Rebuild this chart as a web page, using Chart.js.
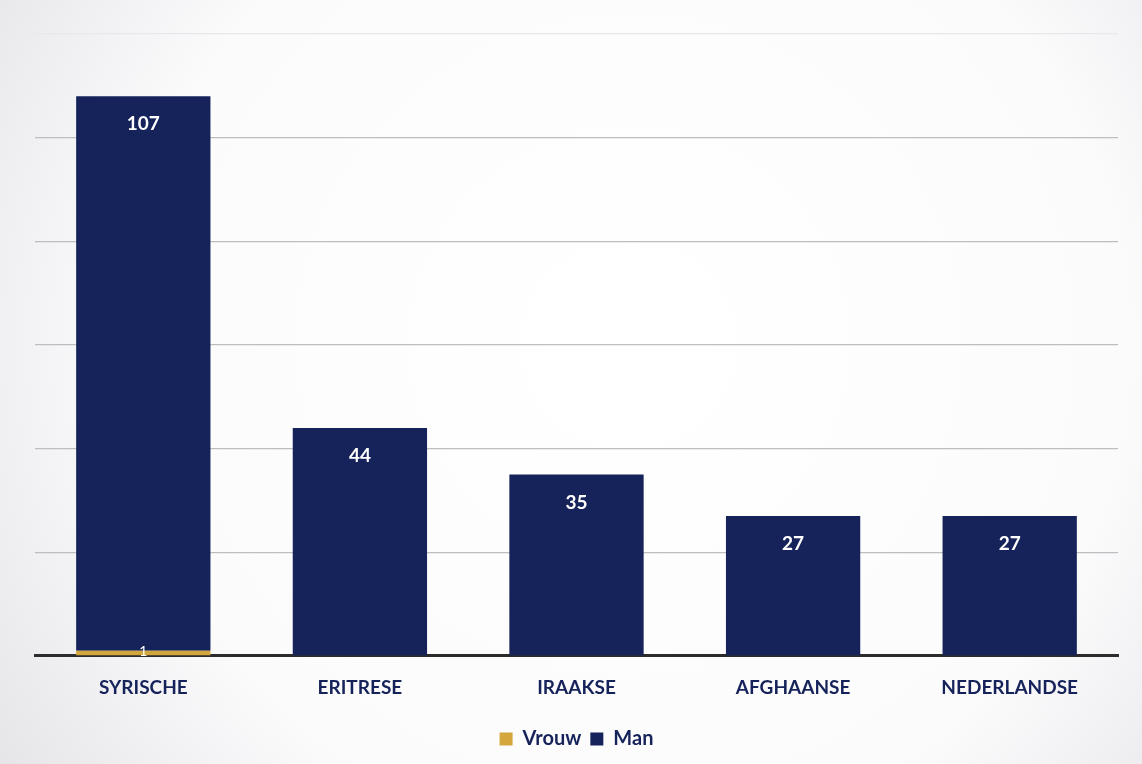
<!DOCTYPE html>
<html>
<head>
<meta charset="utf-8">
<script src="https://cdn.jsdelivr.net/npm/chart.js@4.4.1/dist/chart.umd.min.js"></script>
<style>
  html, body { margin: 0; padding: 0; background: #f3f3f5; }
  #wrap { width: 1142px; height: 764px; position: relative; }
</style>
</head>
<body>
<div id="wrap"><canvas id="c" width="1142" height="764"></canvas></div>
<script>
const categories = ['SYRISCHE', 'ERITRESE', 'IRAAKSE', 'AFGHAANSE', 'NEDERLANDSE'];
const vrouwValues = [1, 0, 0, 0, 0];
const manValues = [107, 44, 35, 27, 27];
const yTicks = [0, 20, 40, 60, 80, 100, 120];

const NAVY = '#16235a';
const GOLD = '#d3a73c';

const bgPlugin = {
  id: 'bg',
  beforeDraw(chart) {
    const ctx = chart.ctx;
    const w = chart.width, h = chart.height;
    const g = ctx.createRadialGradient(w * 0.55, h * 0.45, 50, w * 0.55, h * 0.45, w * 0.7);
    g.addColorStop(0, '#ffffff');
    g.addColorStop(0.6, '#fbfbfc');
    g.addColorStop(1, '#e2e2e6');
    ctx.save();
    ctx.fillStyle = g;
    ctx.fillRect(0, 0, w, h);
    ctx.restore();
  }
};

const labelPlugin = {
  id: 'valueLabels',
  afterDatasetsDraw(chart) {
    const ctx = chart.ctx;
    ctx.save();
    ctx.textAlign = 'center';
    ctx.fillStyle = '#ffffff';
    chart.data.datasets.forEach((ds, di) => {
      const meta = chart.getDatasetMeta(di);
      meta.data.forEach((bar, i) => {
        const v = ds.data[i];
        if (!v) return;
        ctx.textBaseline = 'middle';
        if (di === 1) {
          ctx.font = 'bold 19px Lato, "Open Sans", sans-serif';
          ctx.fillText(String(v), bar.x, bar.y + 28);
        } else {
          ctx.font = '14px Lato, "Open Sans", sans-serif';
          ctx.fillText(String(v), bar.x, bar.y + 1);
        }
      });
    });
    ctx.restore();
  }
};

new Chart(document.getElementById('c'), {
  type: 'bar',
  data: {
    labels: categories,
    datasets: [
      { label: 'Vrouw', data: vrouwValues, backgroundColor: GOLD, barPercentage: 0.62, categoryPercentage: 1 },
      { label: 'Man', data: manValues, backgroundColor: NAVY, barPercentage: 0.62, categoryPercentage: 1 }
    ]
  },
  options: {
    responsive: false,
    animation: false,
    events: [],
    layout: { padding: { left: 35, right: 24, top: 34, bottom: 5 } },
    plugins: {
      tooltip: { enabled: false },
      legend: {
        position: 'bottom',
        labels: {
          boxWidth: 13, boxHeight: 13, padding: 9,
          color: NAVY,
          font: { family: 'Lato, "Open Sans", sans-serif', size: 20, weight: 'bold' }
        }
      }
    },
    scales: {
      x: {
        stacked: true,
        grid: { display: false, drawTicks: false },
        border: { display: true, color: '#2c2c2c', width: 3 },
        ticks: {
          padding: 4,
          color: NAVY,
          font: { family: 'Lato, "Open Sans", sans-serif', size: 19, weight: 'bold', lineHeight: 2.95 }
        }
      },
      y: {
        stacked: true,
        min: 0, max: 120,
        afterBuildTicks(scale) { scale.ticks = yTicks.map(v => ({ value: v })); },
        ticks: { display: false },
        grid: {
          color: (ctx) => (ctx.tick && ctx.tick.value === 120 ? '#e8e8ec' : '#bdbdc2'),
          lineWidth: 1.2, drawTicks: false
        },
        border: { display: false }
      }
    }
  },
  plugins: [bgPlugin, labelPlugin]
});
</script>
</body>
</html>
